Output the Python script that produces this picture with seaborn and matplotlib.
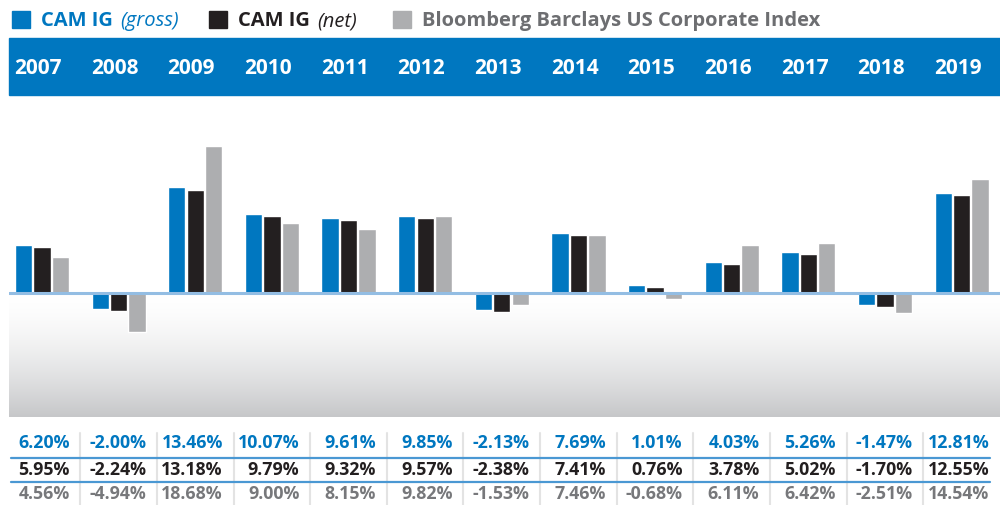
import pandas as pd
import numpy as np
import matplotlib.pyplot as plt
import seaborn as sns
from matplotlib.patches import Rectangle
from matplotlib.transforms import blended_transform_factory

# data
years = ["2007", "2008", "2009", "2010", "2011", "2012", "2013",
         "2014", "2015", "2016", "2017", "2018", "2019"]
gross = [6.20, -2.00, 13.46, 10.07, 9.61, 9.85, -2.13, 7.69, 1.01, 4.03, 5.26, -1.47, 12.81]
net = [5.95, -2.24, 13.18, 9.79, 9.32, 9.57, -2.38, 7.41, 0.76, 3.78, 5.02, -1.70, 12.55]
index = [4.56, -4.94, 18.68, 9.00, 8.15, 9.82, -1.53, 7.46, -0.68, 6.11, 6.42, -2.51, 14.54]
series = ["CAM IG (gross)", "CAM IG (net)", "Bloomberg Barclays US Corporate Index"]

BLUE = "#0077c0"
BLACK = "#231f20"
GRAY = "#adaeb0"
GRAY_TXT = "#77787b"

df = pd.DataFrame({
    "year": years * 3,
    "value": gross + net + index,
    "series": [s for s in series for _ in years],
})

sns.set_style("white")
plt.rcParams["font.family"] = ["Open Sans", "DejaVu Sans"]

fig = plt.figure(figsize=(10, 5.06), dpi=100)
ax = fig.add_axes([0.009, 1 - 418 / 506, 0.991, (418 - 96) / 506])

sns.barplot(data=df, x="year", y="value", hue="series", hue_order=series,
            palette=[BLUE, BLACK, GRAY], width=0.72, gap=0.06,
            saturation=1, legend=False, ax=ax, zorder=3)

ax.set_xlim(-0.43, 12.5)
ax.set_ylim(-15.7, 25.2)
ax.set_axis_off()

# gradient below zero line
t = np.linspace(0, 1, 256) ** 1.6
c0 = np.array([1.0, 1.0, 1.0])
c1 = np.array([0xc6, 0xc7, 0xc9]) / 255
grad = (c0[None, :] * (1 - t[:, None]) + c1[None, :] * t[:, None])[:, None, :]
ax.imshow(grad, extent=[-0.43, 12.5, -15.7, 0], aspect="auto", origin="upper", zorder=0)
ax.axhline(0, color="#93bde3", lw=2.2, zorder=4)

# header band
fig.add_artist(Rectangle((0.009, 1 - 96 / 506), 0.991, 57 / 506,
                         transform=fig.transFigure, color=BLUE, zorder=0))
bt = blended_transform_factory(ax.transData, fig.transFigure)
for i, y in enumerate(years):
    ax.text(i - 0.05, 1 - 69 / 506, y, transform=bt, ha="center", va="center",
            color="white", fontsize=15, fontweight="bold", clip_on=False)

# table
rows = [(gross, BLUE, 443), (net, BLACK, 470), (index, GRAY_TXT, 494)]
for vals, col, ypx in rows:
    for i, v in enumerate(vals):
        ax.text(i + 0.36, 1 - ypx / 506, f"{v:.2f}%", transform=bt, ha="right",
                va="center", color=col, fontsize=12.8, fontweight="bold", clip_on=False)
for ypx in (459, 483):
    ax.plot([-0.4, 12.37], [1 - ypx / 506] * 2, transform=bt, color="#4a98d3",
            lw=1.6, clip_on=False)
for i in range(len(years) - 1):
    ax.plot([i + 0.5, i + 0.5], [0, 1 - 434 / 506], transform=bt, color="#e3e3e3",
            lw=1.5, clip_on=False, zorder=1)

# legend
leg = [(12, BLUE, "CAM IG", "(gross)", BLUE),
       (209, BLACK, "CAM IG", "(net)", BLACK),
       (393, GRAY, "Bloomberg Barclays US Corporate Index", "", "#6d6e71")]
ly = 1 - 21 / 506
fig.canvas.draw()
r = fig.canvas.get_renderer()
for xpx, col, bold, ital, tcol in leg:
    fig.add_artist(Rectangle((xpx / 1000, 1 - 29 / 506), 18 / 1000, 17 / 506,
                             transform=fig.transFigure, color=col))
    tb = fig.text((xpx + 29) / 1000, ly, bold, color=tcol, fontsize=14.5,
                  fontweight="bold", va="center")
    if ital:
        w = tb.get_window_extent(r).width
        fig.text((xpx + 29 + w + 7) / 1000, ly, ital, color=tcol, fontsize=14.5,
                 style="italic", va="center")

plt.savefig("out.png", dpi=100)
